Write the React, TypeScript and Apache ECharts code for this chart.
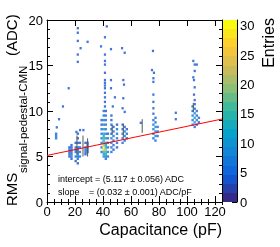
import React, { useEffect, useRef } from "react";
import * as echarts from "echarts";

const FONT = "'Liberation Sans', Arial, Helvetica, sans-serif";

// axis ranges
const capMax = 125;
const rmsMax = 20;
const entriesMax = 31;

// linear fit result
const fitIntercept = 5.117;
const fitInterceptErr = 0.056;
const fitSlope = 0.032;
const fitSlopeErr = 0.001;
const fitCapRange = [0, 125];

// isolated bins (capacitance pF, RMS ADC, entries)
const sparseCap = [7, 8.6, 11.4, 15.5, 21, 23.6, 26, 22, 22, 22, 22, 22, 24, 29, 38.6,
  42.7, 41.4, 41.4, 41.4, 41.4, 41.4, 41.4, 41.4, 41.4, 41.4, 41.4, 41.4, 41.4, 41.4,
  45.7, 45.7, 45.7, 48.5, 47, 53.6, 55.5, 54.5, 55, 54.5, 54, 55.5, 67,
  75.7, 75, 76.4, 76, 76, 76, 76, 76, 76, 92, 92,
  104.5, 105.5, 107, 105.5, 104.5, 105, 105.5, 105, 105.5];
const sparseRms = [8.2, 9.1, 10.5, 12.5, 7.7, 7.9, 7.9, 19.1, 18.6, 17.7, 16.2, 15.4, 16.9, 17.6, 17.1,
  19.3, 18.1, 16.2, 15.5, 15.1, 14.2, 13.4, 13.1, 12.8, 12.5, 12.0, 11.5, 11.0, 10.5,
  16.8, 13.4, 12.5, 11.5, 10.5, 16.9, 16.4, 13.4, 12.9, 11.4, 10.3, 9.9, 8.7,
  16.6, 14.5, 14.2, 13.6, 13.2, 11.8, 11.0, 10.3, 9.7, 9.8, 9.1,
  15.5, 15.1, 15.1, 14.4, 13.7, 13.4, 12.6, 11.8, 11.2];
const sparseEntries = sparseCap.map(() => 4);

// dense columns of bins
const denseCap = [6.5, 16, 17.5, 20.5, 22, 23.5, 27.5, 29, 39, 40.5, 42, 43.5, 46, 47.5, 50,
  54, 55.5, 57, 76, 77.5, 79, 104, 105.5, 107, 108.5];
const denseRms = [
  [7.0, 7.25, 7.5],
  [5.0, 5.25, 5.5, 5.75, 6.0],
  [4.75, 5.0, 5.25, 5.5, 5.75, 6.0, 6.25],
  [4.5, 5.0, 5.5, 5.75, 6.0, 6.5],
  [4.25, 4.75, 5.0, 5.25, 5.5, 5.75, 6.0, 6.5, 7.0, 7.5],
  [5.0, 5.5, 6.0, 6.5],
  [5.25, 5.5, 5.75, 6.0, 6.5],
  [5.5, 5.75, 6.0, 6.25, 6.5],
  [5.5, 6.0, 6.5, 7.0, 7.5, 8.0, 8.5, 9.0],
  [5.0, 5.25, 5.5, 5.75, 6.0, 6.25, 6.5, 6.75, 7.0, 7.25, 7.5, 8.0, 8.5, 9.0, 9.5, 10.0],
  [4.75, 5.0, 5.25, 5.5, 5.75, 6.0, 6.25, 6.5, 7.0, 7.5, 8.0, 8.5, 9.0, 9.5, 10.0],
  [5.0, 5.5, 6.0, 6.5, 7.0, 7.5],
  [5.5, 6.0, 6.5, 7.0, 7.5, 8.0, 8.5, 9.0, 9.5],
  [5.75, 6.25, 6.75, 7.25, 7.75, 8.25],
  [6.0, 6.5, 7.0, 7.5, 8.0, 8.5],
  [6.5, 7.0, 7.5, 8.0, 8.5],
  [6.75, 7.25, 7.75, 8.25],
  [7.0, 7.5, 8.0],
  [7.0, 7.5, 8.0, 8.5, 9.0],
  [6.75, 7.25, 7.75, 8.25, 8.75, 9.25],
  [7.25, 7.75, 8.25],
  [8.5, 9.0, 9.5, 10.0, 10.5],
  [8.25, 8.75, 9.25, 9.75, 10.25, 10.75],
  [8.5, 9.0, 9.5, 10.0],
  [8.75, 9.25],
];
const denseEntries = [
  [5, 6, 5],
  [4, 5, 6, 5, 4],
  [4, 5, 7, 6, 5, 4, 4],
  [4, 5, 6, 5, 5, 4],
  [4, 5, 6, 7, 8, 7, 6, 5, 4, 4],
  [5, 6, 5, 4],
  [4, 5, 6, 5, 4],
  [5, 6, 5, 5, 4],
  [5, 6, 7, 6, 5, 5, 4, 4],
  [8, 11, 15, 25, 31, 22, 15, 13, 14, 12, 11, 10, 8, 7, 6, 5],
  [6, 8, 12, 17, 20, 15, 12, 11, 10, 8, 7, 6, 5, 5, 4],
  [5, 7, 6, 5, 5, 4],
  [5, 6, 7, 7, 6, 6, 5, 4, 4],
  [4, 5, 6, 6, 5, 4],
  [4, 5, 6, 5, 5, 4],
  [5, 6, 7, 6, 5],
  [6, 8, 7, 5],
  [4, 5, 4],
  [5, 6, 7, 7, 5],
  [5, 8, 9, 8, 6, 5],
  [5, 6, 5],
  [5, 6, 7, 6, 5],
  [6, 9, 10, 8, 6, 4],
  [5, 7, 6, 5],
  [4, 5],
];

// profile spread bars
const profCap = [21.4, 25.7, 29, 46.5, 54.5, 68, 104.5];
const profLow = [5.2, 5.0, 5.0, 7.4, 7.1, 7.6, 9.9];
const profHigh = [7.3, 7.3, 7.0, 8.5, 8.6, 9.1, 10.9];

// ROOT kBird palette stops (style)
const birdStops: [number, number, number, number][] = [
  [0.0, 53, 42, 135], [0.125, 15, 92, 221], [0.25, 20, 129, 214], [0.375, 6, 164, 202],
  [0.5, 46, 183, 164], [0.625, 135, 191, 119], [0.75, 209, 187, 89], [0.875, 254, 200, 50],
  [1.0, 249, 251, 14],
];
function bird(t: number) {
  for (let i = 1; i < birdStops.length; i++) {
    const a = birdStops[i - 1], b = birdStops[i];
    if (t <= b[0]) {
      const f = (t - a[0]) / (b[0] - a[0]);
      const c = [1, 2, 3].map((k) => Math.round(a[k] + (b[k] - a[k]) * f));
      return `rgb(${c[0]},${c[1]},${c[2]})`;
    }
  }
  return "rgb(249,251,14)";
}
const nBands = 20;

export default function App() {
  const ref = useRef<HTMLDivElement>(null);
  useEffect(() => {
    if (!ref.current) return;
    const chart = echarts.init(ref.current, undefined, { renderer: "svg" });

    const bandColors = Array.from({ length: nBands }, (_, i) => bird(i / (nBands - 1)));
    const bandSize = entriesMax / nBands;
    const pieces = bandColors.map((color, i) => ({ min: i * bandSize, max: (i + 1) * bandSize, color }));
    const gradStops: { offset: number; color: string }[] = [];
    bandColors.forEach((color, i) => {
      gradStops.push({ offset: i / nBands, color });
      gradStops.push({ offset: (i + 1) / nBands, color });
    });

    const sparseData = sparseCap.map((c, i) => [c, sparseRms[i], sparseEntries[i]]);
    const denseData: number[][] = [];
    denseCap.forEach((c, i) => denseRms[i].forEach((r, j) => denseData.push([c, r, denseEntries[i][j]])));
    const profData = profCap.map((c, i) => [c, profLow[i], profHigh[i]]);
    const fitData = fitCapRange.map((c) => [c, fitIntercept + fitSlope * c]);

    const black = { color: "#000", width: 1 };
    const mainX = (extra: any) => ({
      type: "value", gridIndex: 0, min: 0, max: capMax, splitLine: { show: false },
      axisLine: { show: true, onZero: false, lineStyle: black },
      ...extra,
    });
    const mainY = (extra: any) => ({
      type: "value", gridIndex: 0, min: 0, max: rmsMax, interval: 5, splitLine: { show: false },
      axisLine: { show: true, onZero: false, lineStyle: black },
      axisTick: { show: true, inside: true, length: 6, lineStyle: black },
      minorTick: { show: true, splitNumber: 5, length: 3, lineStyle: black },
      ...extra,
    });
    const txt = (text: string, x: number, y: number, size: number, extra: any = {}) => ({
      type: "text", x, y, ...extra,
      style: { text, fill: "#000", font: `${size}px ${FONT}`, verticalAlign: "middle", ...(extra.style || {}) },
    });

    chart.setOption({
      animation: false,
      textStyle: { fontFamily: FONT },
      grid: [
        { left: 47, top: 20, width: 175, height: 182, containLabel: false },
        { left: 223, top: 20, width: 14, height: 182, containLabel: false },
      ],
      visualMap: {
        type: "piecewise", show: false, dimension: 2, seriesIndex: [0, 1], pieces,
      },
      xAxis: [
        mainX({
          position: "bottom", interval: 20,
          axisTick: { show: true, inside: true, length: 6, lineStyle: black },
          axisLabel: { show: true, showMaxLabel: false, color: "#000", fontSize: 13, margin: 3, fontFamily: FONT },
          name: "Capacitance (pF)", nameLocation: "end", nameGap: 0, nameMoveOverlap: false,
          nameTextStyle: { fontSize: 16, color: "#000", fontFamily: FONT, align: "right", verticalAlign: "top", padding: [19, 0, 0, 0] },
        }),
        mainX({
          position: "bottom", interval: 5, axisLine: { show: false },
          axisTick: { show: true, inside: true, length: 3, lineStyle: black },
          axisLabel: { show: false },
        }),
        mainX({
          position: "top", interval: 20,
          axisTick: { show: true, inside: true, length: 6, lineStyle: black },
          axisLabel: { show: false },
        }),
        mainX({
          position: "top", interval: 5, axisLine: { show: false },
          axisTick: { show: true, inside: true, length: 3, lineStyle: black },
          axisLabel: { show: false },
        }),
        { type: "category", gridIndex: 1, data: ["z"], show: false },
      ],
      yAxis: [
        mainY({
          position: "left",
          axisLabel: { show: true, color: "#000", fontSize: 13, margin: 4, fontFamily: FONT },
        }),
        mainY({ position: "right", axisLabel: { show: false } }),
        {
          type: "value", gridIndex: 1, position: "right", min: 0, max: entriesMax, interval: 5,
          splitLine: { show: false },
          axisLine: { show: true, lineStyle: black },
          axisTick: { show: true, inside: true, length: 5, lineStyle: black },
          axisLabel: { show: true, showMaxLabel: false, color: "#000", fontSize: 13, margin: 3, fontFamily: FONT },
        },
        {
          type: "value", gridIndex: 1, position: "right", min: 0, max: entriesMax, interval: 1,
          splitLine: { show: false }, axisLine: { show: false },
          axisTick: { show: true, inside: true, length: 2.5, lineStyle: black },
          axisLabel: { show: false },
        },
      ],
      series: [
        {
          type: "scatter", xAxisIndex: 0, yAxisIndex: 0, symbol: "rect", symbolSize: [2.2, 2.4],
          data: sparseData, z: 2,
        },
        {
          type: "scatter", xAxisIndex: 0, yAxisIndex: 0, symbol: "rect", symbolSize: [2.4, 2.4],
          data: denseData, z: 2,
        },
        {
          type: "custom", xAxisIndex: 0, yAxisIndex: 0, z: 3,
          data: profData,
          renderItem: (params: any, api: any) => {
            const p1 = api.coord([api.value(0), api.value(1)]);
            const p2 = api.coord([api.value(0), api.value(2)]);
            return {
              type: "line",
              shape: { x1: p1[0], y1: p1[1], x2: p2[0], y2: p2[1] },
              style: { stroke: "#555", lineWidth: 1 },
            };
          },
        },
        {
          type: "line", xAxisIndex: 0, yAxisIndex: 0, data: fitData, symbol: "none", z: 4,
          lineStyle: { color: "#ff0000", width: 1 },
        },
        {
          type: "bar", xAxisIndex: 4, yAxisIndex: 2, data: [entriesMax], barWidth: "100%",
          itemStyle: {
            color: { type: "linear", x: 0, y: 1, x2: 0, y2: 0, colorStops: gradStops },
          },
        },
      ],
      graphic: [
        txt(`intercept = (${fitIntercept.toFixed(3)} ± ${fitInterceptErr.toFixed(3)}) ADC`, 58, 179, 9),
        txt("slope", 58, 192, 9),
        txt(`= (${fitSlope.toFixed(3)} ± ${fitSlopeErr.toFixed(3)}) ADC/pF`, 89, 192, 9),
        txt("Entries", 268, 18, 16, { rotation: Math.PI / 2, style: { align: "right" } }),
        // y-axis title, read bottom to top
        txt("RMS", 11, 206, 15, { rotation: Math.PI / 2, style: { align: "left" } }),
        txt("signal-pedestal-CMN", 23, 173, 11.5, { rotation: Math.PI / 2, style: { align: "left" } }),
        txt("(ADC)", 11, 56, 15, { rotation: Math.PI / 2, style: { align: "left" } }),
      ],
    });
    return () => chart.dispose();
  }, []);
  return <div ref={ref} style={{ position: "fixed", left: 0, top: 0, width: 280, height: 247 }} />;
}
